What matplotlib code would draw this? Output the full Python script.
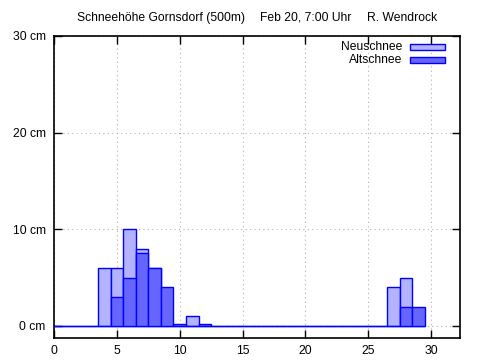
import numpy as np
import matplotlib
matplotlib.use("Agg")
import matplotlib.pyplot as plt
from matplotlib.patches import Rectangle

plt.rcParams["font.family"] = ["Liberation Sans", "DejaVu Sans"]

# ── Data (days of month, snow depth in cm) ────────────────────────────────────
days = np.arange(0, 30)
neuschnee = [0, 0, 0, 0, 6, 6, 10, 8, 6, 0, 0, 1, 0, 0, 0,
             0, 0, 0, 0, 0, 0, 0, 0, 0, 0, 0, 0, 4, 5, 0]
altschnee = [0, 0, 0, 0, 0, 3, 5, 7.5, 6, 4, 0.2, 0, 0.2, 0, 0,
             0, 0, 0, 0, 0, 0, 0, 0, 0, 0, 0, 0, 0, 2, 2]
series_labels = ["Neuschnee", "Altschnee"]
yticks = [0, 10, 20, 30]
ytick_labels = ["0 cm", "10 cm", "20 cm", "30 cm"]
xticks = [0, 5, 10, 15, 20, 25, 30]

BLUE = "#0000ff"
LIGHT = "#b3b3ff"
DARK = "#6666ff"

fig = plt.figure(figsize=(4.8, 3.6), dpi=100)
ax = fig.add_axes([0.1125, 0.0611, 0.8458, 0.8389])

ax.bar(days, neuschnee, width=1.0, color=LIGHT, edgecolor=BLUE, lw=1.0, zorder=2)
ax.bar(days, altschnee, width=1.0, color=DARK, edgecolor=BLUE, lw=1.0, zorder=3)

ax.set_xlim(0, 32.3)
ax.set_ylim(-1.25, 30)
ax.set_xticks(xticks)
ax.set_yticks(yticks)
ax.set_yticklabels(ytick_labels)
ax.grid(True, color="#b0b0b0", ls=(0, (1, 3)), lw=0.8, zorder=0)
ax.tick_params(direction="in", top=True, right=True, labelsize=8.7,
               length=6, width=1, color="black")
ax.tick_params(axis="y", pad=6)
ax.tick_params(axis="x", pad=5)
for s in ax.spines.values():
    s.set_linewidth(1.2)

# ── Legend (gnuplot style: text right-aligned, sample box to the right) ─────
for i, (lab, col) in enumerate(zip(series_labels, [LIGHT, DARK])):
    yc = 0.9636 - i * 0.043
    ax.text(0.857, yc, lab, transform=ax.transAxes, ha="right", va="center",
            fontsize=8.7)
    ax.add_patch(Rectangle((0.8765, yc - 0.011), 0.0865, 0.022,
                           transform=ax.transAxes, facecolor=col,
                           edgecolor=BLUE, lw=1.0, zorder=5))

fig.text(0.160, 0.950, "Schneehöhe Gornsdorf (500m)", fontsize=8.7, va="center")
fig.text(0.542, 0.950, "Feb 20, 7:00 Uhr", fontsize=8.7, va="center")
fig.text(0.765, 0.950, "R. Wendrock", fontsize=8.7, va="center")

fig.savefig("out.png", dpi=100)
plt.close(fig)
